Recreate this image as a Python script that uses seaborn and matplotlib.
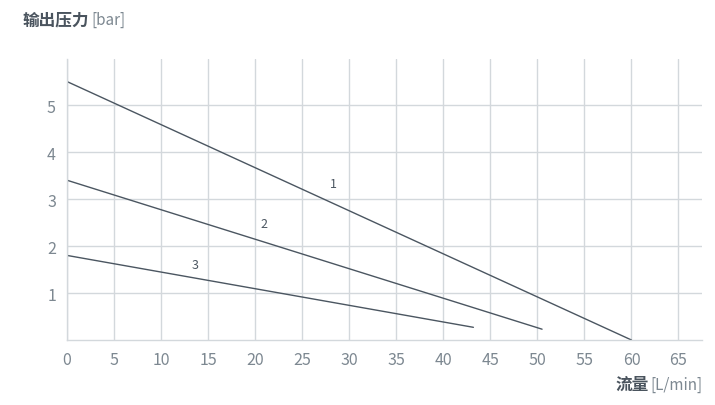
import numpy as np
import pandas as pd
import seaborn as sns
import matplotlib.pyplot as plt

# pump curves: flow [L/min] vs outlet pressure [bar]
curve_names = ["1", "2", "3"]
flow_start = [0, 0, 0]
flow_end = [60, 50.5, 43.2]
pres_start = [5.5, 3.4, 1.8]
pres_end = [0.0, 0.23, 0.27]
label_flow = [28.3, 20.9, 13.6]
label_pres = [3.34, 2.47, 1.6]

x_ticks = list(range(0, 70, 5))
y_ticks = [1, 2, 3, 4, 5]

rows = []
for n, x0, x1, y0, y1 in zip(curve_names, flow_start, flow_end, pres_start, pres_end):
    rows.append({"curve": n, "flow": x0, "pressure": y0})
    rows.append({"curve": n, "flow": x1, "pressure": y1})
df = pd.DataFrame(rows)

sns.set_style("white")
plt.rcParams["font.family"] = ["Noto Sans CJK SC", "DejaVu Sans"]

grid_c = "#d3d8dc"
line_c = "#4b5661"
tick_c = "#7d8891"

fig = plt.figure(figsize=(7.15, 4.06), dpi=100)
ax = fig.add_axes([67 / 715, 65 / 406, (702 - 67) / 715, (341 - 60) / 406])

sns.lineplot(data=df, x="flow", y="pressure", units="curve", estimator=None,
             color=line_c, linewidth=1.0, ax=ax)

for n, lx, ly in zip(curve_names, label_flow, label_pres):
    ax.text(lx, ly, n, fontsize=9, color=line_c, ha="center", va="center",
            fontweight="medium")

ax.set_xlim(0, 67.5)
ax.set_ylim(0, 5.98)
ax.set_xticks(x_ticks)
ax.set_yticks(y_ticks)
ax.grid(True, color=grid_c, linewidth=1.0)
ax.set_axisbelow(True)
for s in ["top", "right"]:
    ax.spines[s].set_visible(False)
for s in ["left", "bottom"]:
    ax.spines[s].set_color(grid_c)
    ax.spines[s].set_linewidth(1.0)
ax.tick_params(axis="both", length=0, labelsize=11.5, labelcolor=tick_c, pad=8)
for lbl in ax.get_xticklabels() + ax.get_yticklabels():
    lbl.set_fontweight("light")
ax.set_xlabel("")
ax.set_ylabel("")

fig.text(22 / 715, 1 - 20 / 406, "输出压力", fontsize=12, fontweight="bold",
         color="#4a545e", ha="left", va="center")
fig.text(91 / 715, 1 - 20 / 406, "[bar]", fontsize=11, color=tick_c,
         ha="left", va="center", fontweight="light")
fig.text(702 / 715, 1 - 385 / 406, "[L/min]", fontsize=11, color=tick_c,
         ha="right", va="center", fontweight="light")
fig.text(649 / 715, 1 - 385 / 406, "流量", fontsize=12, fontweight="bold",
         color="#4a545e", ha="right", va="center")

fig.savefig("out.png", dpi=100)
